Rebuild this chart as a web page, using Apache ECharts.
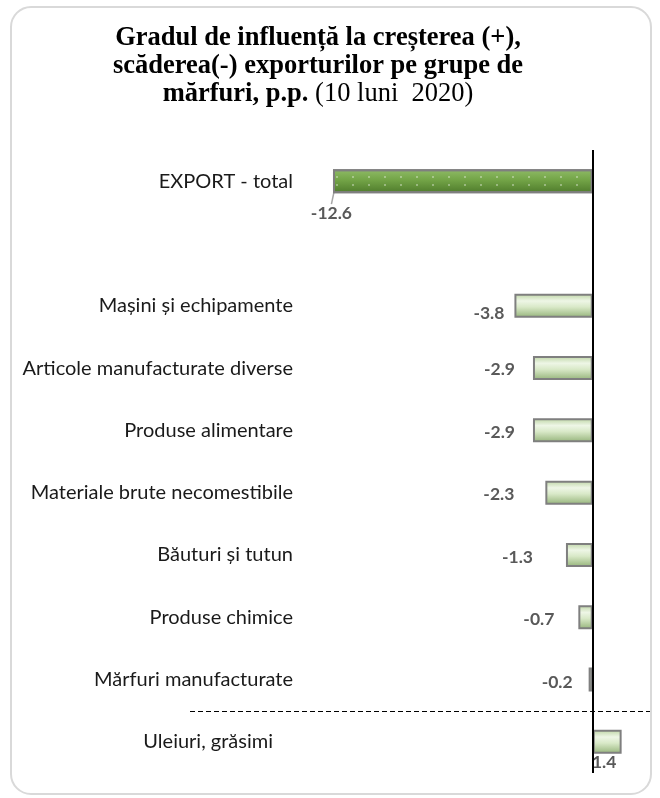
<!DOCTYPE html>
<html>
<head>
<meta charset="utf-8">
<script src="https://cdn.jsdelivr.net/npm/echarts@6/dist/echarts.min.js"></script>
<style>
  html, body { margin: 0; padding: 0; background: #ffffff; }
  #chart { width: 660px; height: 798px; }
</style>
</head>
<body>
<div id="chart"></div>
<script>
// Commodity groups (blank entry leaves a gap under the total)
const categories = [
  'EXPORT - total',
  '',
  'Mașini și echipamente',
  'Articole manufacturate diverse',
  'Produse alimentare',
  'Materiale brute necomestibile',
  'Băuturi și tutun',
  'Produse chimice',
  'Mărfuri manufacturate',
  'Uleiuri, grăsimi'
];
// Contribution to export change, percentage points
const values = [-12.6, null, -3.8, -2.9, -2.9, -2.3, -1.3, -0.7, -0.2, 1.4];

// Nudges for value labels (pixels)
const labelNudge = [
  [24, 32], [0, 0], [-5, 8], [-13, 1], [-13, 2], [-26, 2], [-28, 2], [-19, 2], [-11, 3], [-3, 0]
];

const chart = echarts.init(document.getElementById('chart'));

const lightFill = new echarts.graphic.LinearGradient(0, 0, 0, 1, [
  { offset: 0, color: '#bcd4a3' },
  { offset: 0.3, color: '#eef6e6' },
  { offset: 0.55, color: '#d9e9c8' },
  { offset: 1, color: '#94b379' }
]);
const darkFill = new echarts.graphic.LinearGradient(0, 0, 0, 1, [
  { offset: 0, color: '#8fbb67' },
  { offset: 0.45, color: '#73a447' },
  { offset: 1, color: '#4e7a2b' }
]);

const seriesData = values.map((v, i) => {
  if (v === null) return '-';
  const item = { value: v };
  if (i === 0) {
    item.itemStyle = {
      color: darkFill,
      decal: {
        symbol: 'circle',
        symbolSize: 0.7,
        color: 'rgba(255,255,255,0.95)',
        dashArrayX: [[2, 14]],
        dashArrayY: [2, 6],
        rotation: 0
      }
    };
    item.labelLine = { show: true, lineStyle: { color: '#a6a6a6', width: 1.5 } };
  }
  if (v > 0) {
    item.label = { position: 'bottom', distance: 0 };
  }
  return item;
});

const catFont = { fontFamily: 'Lato', fontSize: 20, color: '#1a1a1a' };

const option = {
  animation: false,
  backgroundColor: '#ffffff',
  title: {
    left: 313,
    top: 19,
    textAlign: 'center',
    text: '{b|Gradul de influență la creșterea (+),}\n{b|scăderea(-) exporturilor pe grupe de}\n{b|mărfuri, p.p.}{r| (10 luni  2020)}',
    textStyle: {
      rich: {
        b: { fontFamily: 'Liberation Serif', fontWeight: 'bold', fontSize: 26.5, color: '#000', lineHeight: 28 },
        r: { fontFamily: 'Liberation Serif', fontWeight: 'normal', fontSize: 26.5, color: '#000', lineHeight: 28 }
      }
    }
  },
  grid: { left: 300, right: 26, top: 150, bottom: 25, containLabel: false },
  xAxis: {
    type: 'value',
    min: -14.2,
    max: 2,
    show: false
  },
  yAxis: {
    type: 'category',
    data: categories,
    inverse: true,
    axisLine: { show: false },
    axisTick: { show: false },
    splitLine: { show: false },
    axisLabel: Object.assign({
      margin: 7,
      formatter: (v) => v === 'Uleiuri, grăsimi' ? '{u|' + v + '}' : v,
      rich: { u: Object.assign({ padding: [0, 20, 0, 0] }, catFont) }
    }, catFont)
  },
  series: [{
    type: 'bar',
    data: seriesData,
    barWidth: 24,
    itemStyle: { color: lightFill, borderColor: '#7f7f7f', borderWidth: 2 },
    label: {
      show: true,
      position: 'left',
      distance: 5,
      fontFamily: 'Lato',
      fontWeight: 'bold',
      fontSize: 17.5,
      color: '#595959',
      formatter: (p) => p.value.toFixed(1)
    },
    labelLine: { show: false },
    labelLayout: (p) => {
      const n = labelNudge[p.dataIndex] || [0, 0];
      return { dx: n[0], dy: n[1] };
    },
    markLine: {
      silent: true,
      symbol: 'none',
      label: { show: false },
      lineStyle: { color: '#000', type: 'solid', width: 2 },
      data: [{ xAxis: 0 }]
    }
  }]
};

chart.setOption(option);

// Outer rounded frame and dashed separator above the last group
const yA = chart.convertToPixel({ yAxisIndex: 0 }, categories[8]);
const yB = chart.convertToPixel({ yAxisIndex: 0 }, categories[9]);
const ySep = Math.round((yA + yB) / 2) + 0.5;
chart.setOption({
  graphic: [
    {
      type: 'rect',
      shape: { x: 11, y: 7, width: 640, height: 787, r: 20 },
      style: { fill: 'none', stroke: '#d9d9d9', lineWidth: 2 },
      silent: true
    },
    {
      type: 'line',
      shape: { x1: 190, y1: ySep, x2: 650, y2: ySep },
      style: { stroke: '#000', lineWidth: 1.2, lineDash: [5, 3] },
      silent: true
    }
  ]
});
</script>
</body>
</html>
